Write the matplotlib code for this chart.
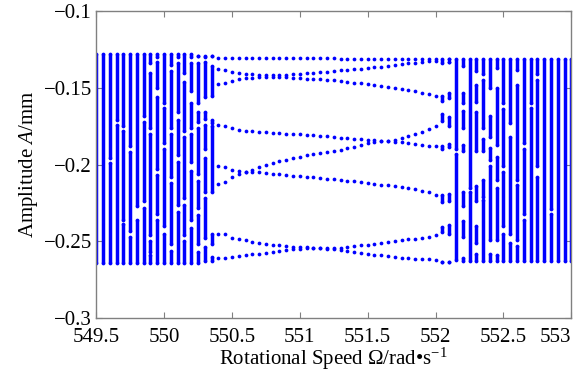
import numpy as np
import matplotlib
matplotlib.use("Agg")
import matplotlib.pyplot as plt

plt.rcParams['font.family'] = ['Liberation Serif', 'DejaVu Serif']
plt.rcParams['mathtext.fontset'] = 'custom'
plt.rcParams['mathtext.rm'] = 'Liberation Serif'
plt.rcParams['mathtext.it'] = 'Liberation Serif:italic'

# periodic window: 8 Poincare points per speed
omega_mid = [550.40, 550.45, 550.50, 550.55, 550.60, 550.65, 550.70, 550.75, 550.80, 550.85,
             550.90, 550.95, 551.00, 551.05, 551.10, 551.15, 551.20, 551.25, 551.30, 551.35,
             551.40, 551.45, 551.50, 551.55, 551.60, 551.65, 551.70, 551.75, 551.80, 551.85,
             551.90, 551.95, 552.00]

b1 = [-0.1303] * 8 + [-0.1305] * 6 + [-0.1307] * 4 + [-0.1310] * 7 + [-0.1312] * 4 + [-0.1314] * 4
b2 = [-0.1374, -0.1383, -0.1394, -0.1400, -0.1407, -0.1411, -0.1413, -0.1415, -0.1415, -0.1415,
      -0.1413, -0.1411, -0.1407, -0.1405, -0.1400, -0.1398, -0.1394, -0.1389, -0.1385, -0.1383,
      -0.1379, -0.1374, -0.1370, -0.1366, -0.1361, -0.1357, -0.1353, -0.1346, -0.1340, -0.1335,
      -0.1331, -0.1327, -0.1322]
b3 = [-0.1476, -0.1465, -0.1452, -0.1444, -0.1437, -0.1433, -0.1431, -0.1428, -0.1428, -0.1428,
      -0.1431, -0.1433, -0.1435, -0.1439, -0.1441, -0.1444, -0.1448, -0.1450, -0.1454, -0.1459,
      -0.1465, -0.1469, -0.1476, -0.1480, -0.1487, -0.1493, -0.1498, -0.1504, -0.1511, -0.1519,
      -0.1530, -0.1541, -0.1552]
b4 = [-0.1742, -0.1751, -0.1764, -0.1773, -0.1779, -0.1783, -0.1788, -0.1790, -0.1794, -0.1796,
      -0.1799, -0.1801, -0.1803, -0.1805, -0.1807, -0.1812, -0.1814, -0.1818, -0.1825, -0.1827,
      -0.1831, -0.1835, -0.1838, -0.1840, -0.1844, -0.1846, -0.1851, -0.1855, -0.1859, -0.1866,
      -0.1870, -0.1877, -0.1881]
b5 = [-0.2011, -0.2017, -0.2032, -0.2043, -0.2045, -0.2032, -0.2017, -0.2002, -0.1989, -0.1978,
      -0.1967, -0.1957, -0.1948, -0.1937, -0.1931, -0.1922, -0.1915, -0.1911, -0.1905, -0.1894,
      -0.1883, -0.1872, -0.1861, -0.1855, -0.1848, -0.1844, -0.1840, -0.1829, -0.1816, -0.1801,
      -0.1786, -0.1768, -0.1747]
b6 = [-0.2125, -0.2115, -0.2078, -0.2061, -0.2050, -0.2045, -0.2045, -0.2056, -0.2061, -0.2063,
      -0.2067, -0.2071, -0.2074, -0.2078, -0.2082, -0.2087, -0.2091, -0.2093, -0.2099, -0.2104,
      -0.2110, -0.2115, -0.2119, -0.2125, -0.2132, -0.2136, -0.2141, -0.2147, -0.2154, -0.2162,
      -0.2169, -0.2180, -0.2197]
b7 = [-0.2450, -0.2455, -0.2476, -0.2487, -0.2494, -0.2504, -0.2509, -0.2517, -0.2522, -0.2526,
      -0.2530, -0.2535, -0.2537, -0.2539, -0.2541, -0.2541, -0.2541, -0.2543, -0.2541, -0.2537,
      -0.2532, -0.2526, -0.2522, -0.2515, -0.2511, -0.2504, -0.2500, -0.2494, -0.2487, -0.2483,
      -0.2476, -0.2472, -0.2461]
b8 = [-0.2608, -0.2606, -0.2600, -0.2595, -0.2591, -0.2584, -0.2580, -0.2574, -0.2569, -0.2565,
      -0.2558, -0.2552, -0.2548, -0.2545, -0.2543, -0.2545, -0.2548, -0.2550, -0.2558, -0.2565,
      -0.2569, -0.2574, -0.2580, -0.2587, -0.2591, -0.2595, -0.2602, -0.2606, -0.2608, -0.2613,
      -0.2615, -0.2617, -0.2623]
branches = [b1, b2, b3, b4, b5, b6, b7, b8]

# quasi-periodic / chaotic columns: filled amplitude ranges (top, bottom)
left_omega = [549.50, 549.55, 549.60, 549.65, 549.70, 549.75, 549.80, 549.85, 549.90,
              549.95, 550.00, 550.05, 550.10, 550.15, 550.20, 550.25, 550.30, 550.35]
left_segs = [
    [(-0.128, -0.264)],
    [(-0.128, -0.264)],
    [(-0.128, -0.196), (-0.199, -0.264)],
    [(-0.128, -0.171), (-0.174, -0.264)],
    [(-0.128, -0.175), (-0.178, -0.236), (-0.239, -0.264)],
    [(-0.128, -0.188), (-0.192, -0.243), (-0.247, -0.264)],
    [(-0.128, -0.227), (-0.236, -0.264)],
    [(-0.128, -0.168), (-0.172, -0.224), (-0.228, -0.264)],
    [(-0.128, -0.134), (-0.140, -0.176), (-0.180, -0.246), (-0.250, -0.257), (-0.259, -0.264)],
    [(-0.128, -0.130), (-0.133, -0.150), (-0.156, -0.203), (-0.207, -0.232), (-0.236, -0.264)],
    [(-0.128, -0.160), (-0.163, -0.186), (-0.190, -0.240), (-0.245, -0.264)],
    [(-0.128, -0.135), (-0.139, -0.176), (-0.180, -0.208), (-0.212, -0.252), (-0.256, -0.264)],
    [(-0.128, -0.130), (-0.134, -0.166), (-0.171, -0.194), (-0.198, -0.226), (-0.231, -0.264)],
    [(-0.128, -0.140), (-0.146, -0.178), (-0.182, -0.222), (-0.226, -0.246), (-0.250, -0.264)],
    [(-0.128, -0.130), (-0.134, -0.152), (-0.160, -0.176), (-0.180, -0.198), (-0.204, -0.236),
     (-0.241, -0.264)],
    [(-0.129, -0.129), (-0.134, -0.160), (-0.166, -0.172), (-0.176, -0.206), (-0.211, -0.228),
     (-0.233, -0.252), (-0.257, -0.264)],
    [(-0.129, -0.130), (-0.133, -0.156), (-0.166, -0.170), (-0.174, -0.190), (-0.196, -0.218),
     (-0.222, -0.248), (-0.254, -0.263)],
    [(-0.129, -0.129), (-0.136, -0.155), (-0.171, -0.173), (-0.175, -0.218), (-0.245, -0.252),
     (-0.260, -0.263)],
]

right_omega = [552.05, 552.10, 552.15, 552.20, 552.25, 552.30, 552.35, 552.40, 552.45, 552.50,
               552.55, 552.60, 552.65, 552.70, 552.75, 552.80, 552.85, 552.90, 552.95, 553.00]
right_segs = [
    [(-0.1314, -0.1335), (-0.1552, -0.1584), (-0.1671, -0.1714), (-0.1877, -0.1898),
     (-0.2201, -0.2245), (-0.2407, -0.2439), (-0.2634, -0.2634)],
    [(-0.1309, -0.1309), (-0.1331, -0.1331), (-0.1530, -0.1563), (-0.1692, -0.1747),
     (-0.1866, -0.1887), (-0.2190, -0.2234), (-0.2396, -0.2450), (-0.2634, -0.2634)],
    [(-0.131, -0.190), (-0.193, -0.262)],
    [(-0.131, -0.136), (-0.153, -0.160), (-0.165, -0.176), (-0.187, -0.191), (-0.218, -0.227),
     (-0.237, -0.247), (-0.261, -0.263)],
    [(-0.131, -0.215), (-0.218, -0.263)],
    [(-0.131, -0.139), (-0.148, -0.159), (-0.166, -0.191), (-0.214, -0.224), (-0.240, -0.251),
     (-0.258, -0.263)],
    [(-0.131, -0.141), (-0.145, -0.176), (-0.183, -0.191), (-0.210, -0.221), (-0.223, -0.263)],
    [(-0.131, -0.150), (-0.168, -0.182), (-0.189, -0.197), (-0.201, -0.249), (-0.258, -0.263)],
    [(-0.131, -0.137), (-0.150, -0.187), (-0.195, -0.210), (-0.215, -0.249), (-0.259, -0.263)],
    [(-0.131, -0.160), (-0.164, -0.201), (-0.205, -0.240), (-0.245, -0.263)],
    [(-0.131, -0.173), (-0.182, -0.245), (-0.251, -0.263)],
    [(-0.131, -0.138), (-0.148, -0.210), (-0.213, -0.249), (-0.253, -0.263)],
    [(-0.131, -0.186), (-0.190, -0.232), (-0.236, -0.263)],
    [(-0.131, -0.160), (-0.163, -0.263)],
    [(-0.131, -0.141), (-0.145, -0.201), (-0.208, -0.263)],
    [(-0.131, -0.263)],
    [(-0.131, -0.229), (-0.232, -0.263)],
    [(-0.131, -0.263)],
    [(-0.131, -0.263)],
    [(-0.131, -0.263)],
]

xticks = [549.5, 550, 550.5, 551, 551.5, 552, 552.5, 553]
xtick_labels = ['549.5', '550', '550.5', '551', '551.5', '552', '552.5', '553']
yticks = [-0.3, -0.25, -0.2, -0.15, -0.1]
ytick_labels = ['\u22120.3', '\u22120.25', '\u22120.2', '\u22120.15', '\u22120.1']

blue = '#0000ff'

fig = plt.figure(figsize=(5.83, 3.75), dpi=100)
ax = fig.add_axes([0.165, 0.152, 0.815, 0.818])

for b in branches:
    ax.plot(omega_mid, b, 'o', ms=2.7, color=blue, mec='none')

for om_list, seg_list in [(left_omega, left_segs), (right_omega, right_segs)]:
    for om, segs in zip(om_list, seg_list):
        tops = [s[0] for s in segs]
        bots = [s[1] for s in segs]
        ax.vlines([om] * len(segs), bots, tops, colors=blue, lw=2.5)
        ax.plot([om] * len(segs), tops, 'o', ms=2.7, color=blue, mec='none')
        ax.plot([om] * len(segs), bots, 'o', ms=2.7, color=blue, mec='none')

ax.set_xlim(549.5, 553.0)
ax.set_ylim(-0.3, -0.1)
ax.set_xticks(xticks)
ax.set_xticklabels(xtick_labels)
ax.set_yticks(yticks)
ax.set_yticklabels(ytick_labels)
ax.tick_params(direction='in', top=True, right=True, length=4, width=0.8,
               color='#808080', labelsize=15)
ax.tick_params(axis='x', pad=7)
ax.tick_params(axis='y', pad=3)
ax.get_xticklabels()[-1].set_horizontalalignment('right')
for sp in ax.spines.values():
    sp.set_color('#808080')
    sp.set_linewidth(1.0)

ax.set_xlabel('Rotational Speed \u03a9/rad\u2022s$^{\\mathregular{-1}}$', fontsize=15, labelpad=-1)
ax.set_ylabel('Amplitude $\\mathit{A}$/mm', fontsize=15, labelpad=3)

fig.savefig('out.png', dpi=100)
